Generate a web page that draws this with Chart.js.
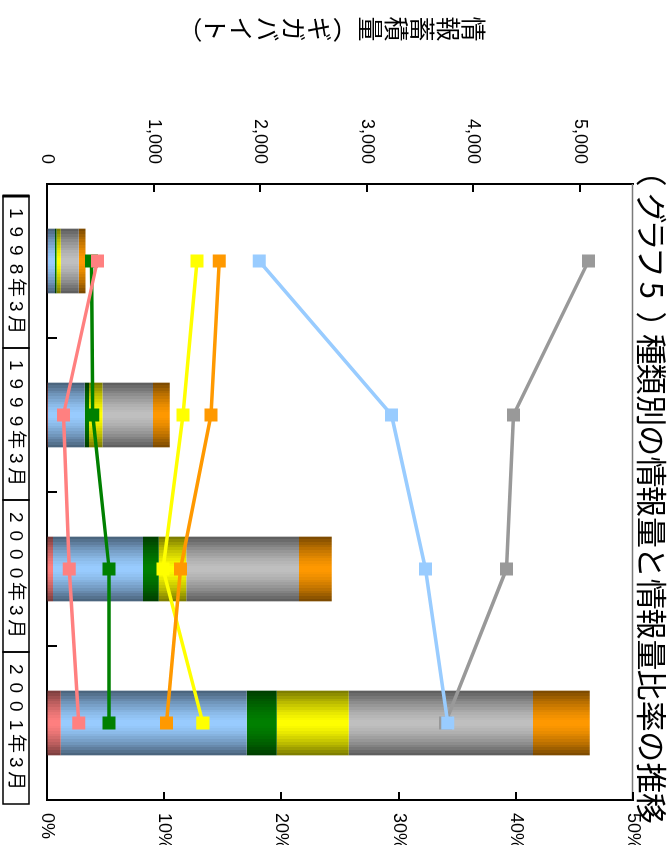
<!DOCTYPE html>
<html lang="ja">
<head>
<meta charset="utf-8">
<title>種類別の情報量と情報量比率の推移</title>
<script src="https://cdn.jsdelivr.net/npm/chart.js@4.4.1/dist/chart.umd.min.js"></script>
<style>
  html, body { margin: 0; padding: 0; background: #ffffff; }
  #stage { position: relative; width: 670px; height: 845px; overflow: hidden; background: #ffffff; }
  /* the chart is laid out landscape and turned a quarter clockwise onto the page */
  #turn { position: absolute; left: 0; top: 0; width: 845px; height: 670px;
          transform-origin: 0 0; transform: translate(670px, 0) rotate(90deg); }
  canvas { display: block; }
</style>
</head>
<body>
<div id="stage"><div id="turn"><canvas id="chart" width="845" height="670"></canvas></div></div>
<script>
// ---- data -------------------------------------------------------------
const chartTitlePrefix = '（グラフ5）';
const chartTitleBody = '種類別の情報量と情報量比率の推移';
const volumeAxisTitle = '情報蓄積量（ギガバイト）';

const categories = ['1998年3月', '1999年3月', '2000年3月', '2001年3月'];

// stored volume per type (gigabytes), stacked bars
const volumePink   = [8, 9, 56, 129];
const volumeBlue   = [66, 345, 845, 1746];
const volumeGreen  = [16, 40, 147, 282];
const volumeYellow = [40, 126, 260, 676];
const volumeGray   = [169, 475, 1058, 1728];
const volumeOrange = [63, 157, 307, 532];

// share of the total per type (%), lines
const sharePink   = [4.3, 1.4, 1.9, 2.7];
const shareBlue   = [18.1, 29.4, 32.3, 34.2];
const shareGreen  = [3.8, 3.9, 5.3, 5.3];
const shareYellow = [12.8, 11.6, 9.9, 13.3];
const shareGray   = [46.2, 39.8, 39.2, 34.0];
const shareOrange = [14.7, 14.0, 11.4, 10.2];

const volumeTicks = [0, 1000, 2000, 3000, 4000, 5000];
const volumeTickLabels = ['0', '1,000', '2,000', '3,000', '4,000', '5,000'];
const shareTicks = [0, 10, 20, 30, 40, 50];
const shareTickLabels = ['0%', '10%', '20%', '30%', '40%', '50%'];

// ---- styling ----------------------------------------------------------
const COLORS = {
  pink: '#ff8080', blue: '#99ccff', green: '#008000',
  yellow: '#ffff00', gray: '#c0c0c0', orange: '#ff9900'
};
const LINE_GRAY = '#999999';
const BAR_PCT = 0.42;
const LATIN = '"Liberation Sans", Arial, sans-serif';
const CJK = '"Liberation Sans", "Noto Sans CJK JP", sans-serif';

function hexToRgb(hex) {
  const n = parseInt(hex.slice(1), 16);
  return [(n >> 16) & 255, (n >> 8) & 255, n & 255];
}

// banded cylinder shading across the width of each bar
function shade(hex) {
  const rgb = hexToRgb(hex);
  return (ctx) => {
    const chart = ctx.chart;
    const xs = chart.scales && chart.scales.x;
    if (ctx.type !== 'data' || !chart.chartArea || !xs) return hex;
    const slot = xs.width / categories.length;
    const w = slot * BAR_PCT;
    const cx = xs.getPixelForValue(ctx.dataIndex);
    const g = chart.ctx.createLinearGradient(cx - w / 2, 0, cx + w / 2, 0);
    const N = 24;
    for (let i = 0; i < N; i++) {
      const t = Math.abs((i + 0.5) / N - 0.5) * 2;
      const f = 1 - 0.54 * Math.pow(t, 1.5);
      const c = `rgb(${Math.round(rgb[0] * f)},${Math.round(rgb[1] * f)},${Math.round(rgb[2] * f)})`;
      g.addColorStop(i / N, c);
      g.addColorStop((i + 1) / N, c);
    }
    return g;
  };
}

function barSet(label, data, color, order) {
  return {
    type: 'bar', label, data, yAxisID: 'y', order,
    backgroundColor: shade(color), borderWidth: 0,
    barPercentage: BAR_PCT, categoryPercentage: 1, stack: 'volume'
  };
}

function lineSet(label, data, color, order) {
  return {
    type: 'line', label, data, yAxisID: 'y1', order,
    borderColor: color, backgroundColor: color,
    pointBackgroundColor: color, pointBorderColor: color,
    pointStyle: 'rect', pointRadius: 9.2, pointHoverRadius: 9.2,
    pointBorderWidth: 0, borderWidth: 3.5, tension: 0, fill: false
  };
}

// draw a glyph so that its inked part is centred on (x, y)
function inkCentered(ctx, ch, x, y) {
  const m = ctx.measureText(ch);
  const inkMid = (m.actualBoundingBoxRight - m.actualBoundingBoxLeft) / 2;
  ctx.fillText(ch, x - inkMid, y);
}

// ---- hand-drawn decorations: inner tick marks, frame top, label table, titles
const decor = {
  id: 'decor',
  afterDraw(chart) {
    const { ctx, chartArea: a, scales } = chart;
    ctx.save();

    // top edge of the plot frame
    ctx.strokeStyle = '#7a7a7a';
    ctx.lineWidth = 1.5;
    ctx.beginPath();
    ctx.moveTo(a.left, a.top + 0.5);
    ctx.lineTo(a.right, a.top + 0.5);
    ctx.stroke();

    // inward tick marks
    ctx.strokeStyle = '#000';
    ctx.lineWidth = 2;
    ctx.beginPath();
    volumeTicks.forEach(v => {
      const y = Math.round(scales.y.getPixelForValue(v));
      ctx.moveTo(a.left, y); ctx.lineTo(a.left + 8, y);
    });
    shareTicks.forEach(v => {
      const y = Math.round(scales.y1.getPixelForValue(v));
      ctx.moveTo(a.right, y); ctx.lineTo(a.right - 8, y);
    });
    for (let i = 0; i < categories.length - 1; i++) {
      const x = Math.round((scales.x.getPixelForValue(i) + scales.x.getPixelForValue(i + 1)) / 2);
      ctx.moveTo(x, a.bottom); ctx.lineTo(x, a.bottom - 10);
    }
    ctx.stroke();

    // category labels in a boxed row under the plot
    const boxLeft = a.left + 12;
    const boxW = (a.width - 8) / categories.length;
    const boxTop = 641, boxH = 26;
    ctx.lineWidth = 1.5;
    ctx.strokeStyle = '#000';
    for (let i = 0; i < categories.length; i++) {
      ctx.strokeRect(boxLeft + i * boxW, boxTop, boxW, boxH);
    }
    ctx.lineWidth = 3;
    ctx.beginPath();
    ctx.moveTo(boxLeft, boxTop - 0.5); ctx.lineTo(boxLeft, boxTop + boxH + 0.5);
    ctx.stroke();

    ctx.fillStyle = '#000';
    ctx.font = '19px ' + CJK;
    ctx.textAlign = 'center';
    ctx.textBaseline = 'middle';
    const pitch = 18.6;
    categories.forEach((label, i) => {
      const chars = Array.from(label);
      const cx = boxLeft + (i + 0.5) * boxW - 3;
      const start = cx - (chars.length - 1) * pitch / 2;
      chars.forEach((ch, k) => ctx.fillText(ch, start + k * pitch, boxTop + boxH / 2 + 1));
    });

    // vertical (tategaki) volume axis title
    ctx.font = '25px "Noto Sans CJK JP", sans-serif';
    const tChars = Array.from(volumeAxisTitle);
    const tPitch = 25.8;
    const tMid = 338;
    const tStart = tMid - (tChars.length - 1) * tPitch / 2;
    tChars.forEach((ch, k) => {
      const y = tStart + k * tPitch;
      ctx.save();
      ctx.translate(29, y);
      if (ch === '（' || ch === '）') ctx.rotate(Math.PI / 2);
      ctx.fillText(ch, 0, 0);
      ctx.restore();
    });

    // chart title: bracketed number set on an even pitch, then the heading
    ctx.font = '31px "Noto Sans CJK JP", sans-serif';
    ctx.textAlign = 'left';
    ctx.textBaseline = 'middle';
    Array.from(chartTitlePrefix).forEach((ch, k) => inkCentered(ctx, ch, 181 + k * 27.2, 18));
    Array.from(chartTitleBody).forEach((ch, k) => inkCentered(ctx, ch, 349 + k * 30.6, 18));

    ctx.restore();
  }
};

// ---- chart ------------------------------------------------------------
new Chart(document.getElementById('chart'), {
  data: {
    labels: categories,
    datasets: [
      barSet('系列1', volumePink, COLORS.pink, 10),
      barSet('系列2', volumeBlue, COLORS.blue, 11),
      barSet('系列3', volumeGreen, COLORS.green, 12),
      barSet('系列4', volumeYellow, COLORS.yellow, 13),
      barSet('系列5', volumeGray, COLORS.gray, 14),
      barSet('系列6', volumeOrange, COLORS.orange, 15),
      lineSet('系列1 比率', sharePink, COLORS.pink, 1),
      lineSet('系列2 比率', shareBlue, COLORS.blue, 3),
      lineSet('系列3 比率', shareGreen, COLORS.green, 2),
      lineSet('系列4 比率', shareYellow, COLORS.yellow, 6),
      lineSet('系列5 比率', shareGray, LINE_GRAY, 4),
      lineSet('系列6 比率', shareOrange, COLORS.orange, 5)
    ]
  },
  options: {
    responsive: false,
    animation: false,
    devicePixelRatio: 1,
    layout: { padding: { top: 37, left: 0, right: 0, bottom: 0 } },
    plugins: {
      legend: { display: false },
      title: { display: false },
      tooltip: { enabled: false }
    },
    scales: {
      x: {
        type: 'category',
        offset: true,
        stacked: true,
        ticks: { display: false },
        grid: { display: true, drawOnChartArea: false, drawTicks: false },
        border: { display: true, color: '#000', width: 2 },
        afterFit: s => { s.height = 47; }
      },
      y: {
        position: 'left',
        stacked: true,
        min: 0, max: 5500,
        afterBuildTicks: s => { s.ticks = volumeTicks.map(v => ({ value: v })); },
        ticks: {
          padding: 20, color: '#000',
          font: { family: LATIN, size: 18 },
          callback: v => volumeTickLabels[volumeTicks.indexOf(v)]
        },
        grid: { drawOnChartArea: false, drawTicks: false },
        border: { display: true, color: '#000', width: 2 },
        afterFit: s => { s.width = 184; }
      },
      y1: {
        position: 'right',
        min: 0, max: 50,
        afterBuildTicks: s => { s.ticks = shareTicks.map(v => ({ value: v })); },
        ticks: {
          padding: 13, color: '#000',
          font: { family: LATIN, size: 18 },
          callback: v => shareTickLabels[shareTicks.indexOf(v)]
        },
        grid: { drawOnChartArea: false, drawTicks: false },
        border: { display: true, color: '#000', width: 2 },
        afterFit: s => { s.width = 45; }
      }
    }
  },
  plugins: [decor]
});
</script>
</body>
</html>
